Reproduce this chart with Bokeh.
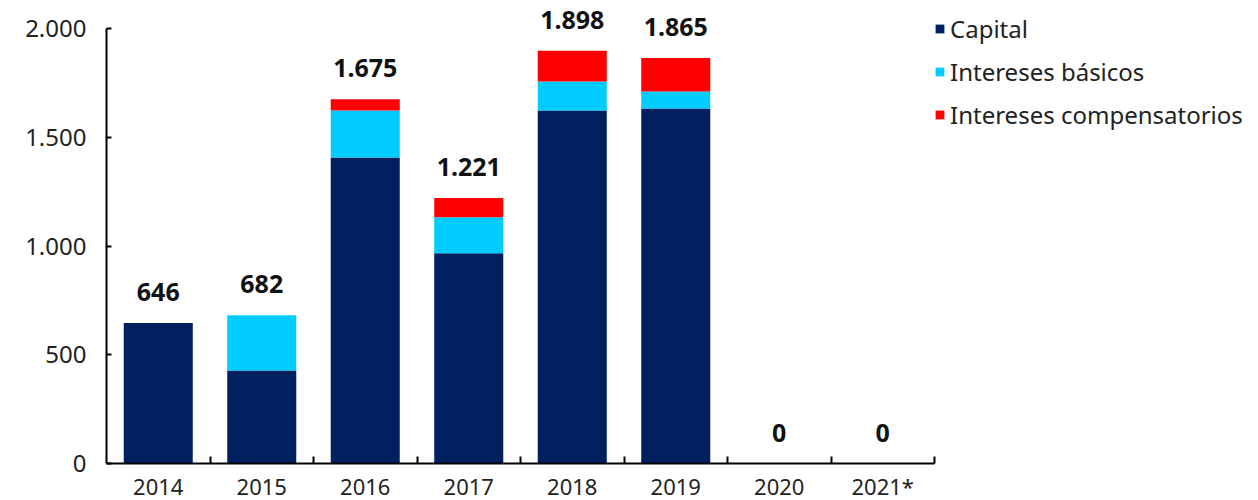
from bokeh.plotting import figure
from bokeh.models import Range1d, FixedTicker, LabelSet, ColumnDataSource, Legend, LegendItem
from bokeh.core.properties import value
from bokeh.embed import file_html
from bokeh.resources import INLINE

years = ["2014", "2015", "2016", "2017", "2018", "2019", "2020", "2021*"]
capital = [646, 428, 1407, 967, 1623, 1632, 0, 0]
basicos = [0, 254, 216, 165, 133, 78, 0, 0]
compens = [0, 0, 52, 89, 142, 155, 0, 0]
series_names = ["Capital", "Intereses básicos", "Intereses compensatorios"]
colors = ["#002060", "#00CCFF", "#FF0000"]
y_ticks = [0, 500, 1000, 1500, 2000]

def fmt(v):
    return f"{int(v):,}".replace(",", ".")

xs = [i + 0.5 for i in range(len(years))]
totals = [a + b + c for a, b, c in zip(capital, basicos, compens)]
src = ColumnDataSource(dict(x=xs, capital=capital, basicos=basicos, compens=compens,
                            total=totals, total_txt=[fmt(t) for t in totals]))

FONT = "Noto Sans"

p = figure(frame_width=828, frame_height=463, output_backend="svg", toolbar_location=None,
           x_range=Range1d(0, len(years)), y_range=Range1d(0, 2129),
           min_border_left=106, min_border_right=0, min_border_top=0, min_border_bottom=0)
p.outline_line_color = None
p.xgrid.visible = False
p.ygrid.visible = False

rs = p.vbar_stack(["capital", "basicos", "compens"], x="x", width=0.667, source=src,
                  color=colors, line_color=None)

labels = LabelSet(x="x", y="total", text="total_txt", source=src, y_offset=22,
                  text_align="center", text_baseline="alphabetic",
                  text_font=value(FONT), text_font_style="bold", text_font_size="25px",
                  text_color="#111111")
p.add_layout(labels)

# y axis
yax = p.yaxis[0]
yax.ticker = FixedTicker(ticks=y_ticks)
yax.major_label_overrides = {t: fmt(t) for t in y_ticks}
yax.bounds = (0, 2000)
yax.axis_line_width = 2
yax.axis_line_color = "#000000"
yax.major_tick_in = 5
yax.major_tick_out = 0
yax.major_tick_line_width = 2
yax.minor_tick_line_color = None
yax.major_label_standoff = 20
yax.major_label_text_font = FONT
yax.major_label_text_font_size = "24px"
yax.major_label_text_color = "#222222"

# x axis
xax = p.xaxis[0]
xax.ticker = FixedTicker(ticks=xs, minor_ticks=list(range(1, len(years) + 1)))
xax.major_label_overrides = {x: y for x, y in zip(xs, years)}
xax.axis_line_width = 2
xax.axis_line_color = "#000000"
xax.major_tick_line_color = None
xax.major_tick_in = 0
xax.major_tick_out = 0
xax.minor_tick_in = 7
xax.minor_tick_out = 0
xax.minor_tick_line_width = 2
xax.minor_tick_line_color = "#000000"
xax.major_label_standoff = 7
xax.major_label_text_font = FONT
xax.major_label_text_font_size = "22px"
xax.major_label_text_color = "#222222"

legend = Legend(items=[LegendItem(label=n, renderers=[r]) for n, r in zip(series_names, rs)],
                location="top_left", orientation="vertical")
legend.title = " "
legend.title_text_font_size = "5px"
legend.title_standoff = 2
legend.margin = 0
legend.padding = 1
legend.border_line_color = None
legend.background_fill_alpha = 0
legend.glyph_width = 11
legend.glyph_height = 11
legend.label_height = 40
legend.spacing = 3
legend.label_standoff = 5
legend.label_text_font = FONT
legend.label_text_font_size = "24px"
legend.label_text_color = "#222222"
p.add_layout(legend, "right")

open("out.html", "w").write(file_html(p, INLINE))
